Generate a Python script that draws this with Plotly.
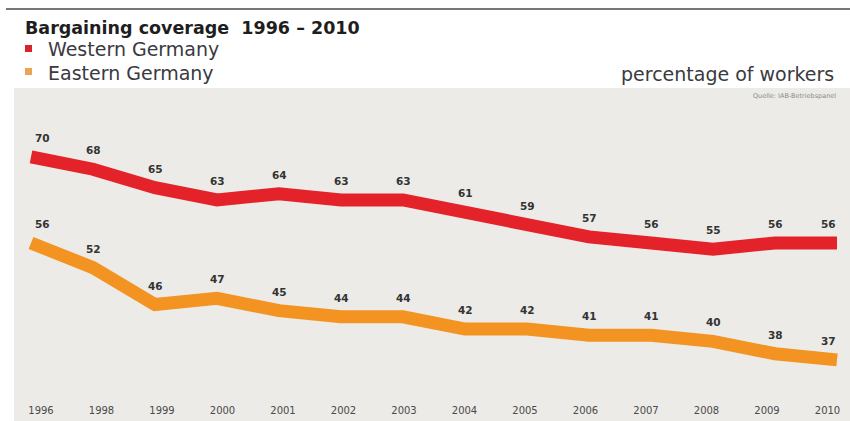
import plotly.graph_objects as go

years = ["1996", "1998", "1999", "2000", "2001", "2002", "2003",
         "2004", "2005", "2006", "2007", "2008", "2009", "2010"]
west = [70, 68, 65, 63, 64, 63, 63, 61, 59, 57, 56, 55, 56, 56]
east = [56, 52, 46, 47, 45, 44, 44, 42, 42, 41, 41, 40, 38, 37]

W, H = 850, 421
RED = "#e4222a"
ORANGE = "#f39322"
BG = "#ecebe7"
FONT = "DejaVu Sans"

def px_x(p):
    return p / W

def px_y(p):
    return 1 - p / H

idx = list(range(len(years)))

fig = go.Figure()
fig.add_trace(go.Scatter(x=idx, y=west, mode="lines", line=dict(color=RED, width=13),
                         hoverinfo="skip", showlegend=False))
fig.add_trace(go.Scatter(x=idx, y=east, mode="lines", line=dict(color=ORANGE, width=13),
                         hoverinfo="skip", showlegend=False))
# carrier for the year tick-label axis
fig.add_trace(go.Scatter(x=idx, y=[None] * len(idx), xaxis="x2", mode="markers",
                         hoverinfo="skip", showlegend=False))

annotations = []
n = len(years)
for series in (west, east):
    for i, v in enumerate(series):
        xs = 0
        if i == 0:
            xs = 11
        elif i == n - 1:
            xs = -9
        annotations.append(dict(x=i, y=v, xref="x", yref="y", text=str(v), showarrow=False,
                                yshift=19, xshift=xs,
                                font=dict(family=FONT, size=10.5, color="#333333", weight="bold")))

# Title and legend texts
annotations.append(dict(x=px_x(23), y=px_y(28), xref="paper", yref="paper", xanchor="left",
                        yanchor="middle", showarrow=False, text="<b>Bargaining coverage  1996 – 2010</b>",
                        font=dict(family=FONT, size=17.5, color="#1e1e1e")))
annotations.append(dict(x=px_x(46), y=px_y(49), xref="paper", yref="paper", xanchor="left",
                        yanchor="middle", showarrow=False, text="Western Germany",
                        font=dict(family=FONT, size=19, color="#3a3a40")))
annotations.append(dict(x=px_x(46), y=px_y(73), xref="paper", yref="paper", xanchor="left",
                        yanchor="middle", showarrow=False, text="Eastern Germany",
                        font=dict(family=FONT, size=19, color="#3a3a40")))
annotations.append(dict(x=px_x(836), y=px_y(74), xref="paper", yref="paper", xanchor="right",
                        yanchor="middle", showarrow=False, text="percentage of workers",
                        font=dict(family=FONT, size=19, color="#3a3a40")))
annotations.append(dict(x=px_x(838), y=px_y(96), xref="paper", yref="paper", xanchor="right",
                        yanchor="middle", showarrow=False, text="Quelle: IAB-Betriebspanel",
                        font=dict(family=FONT, size=6.5, color="#8a8a8a")))

shapes = [
    dict(type="rect", xref="paper", yref="paper", x0=px_x(14), x1=1, y0=0, y1=px_y(88),
         fillcolor=BG, line=dict(width=0), layer="below"),
    dict(type="line", xref="paper", yref="paper", x0=px_x(6), x1=1, y0=px_y(9), y1=px_y(9),
         line=dict(color="#4a4a4a", width=1.5)),
    dict(type="rect", xref="paper", yref="paper", x0=px_x(25), x1=px_x(32), y0=px_y(52), y1=px_y(45),
         fillcolor="#d8232d", line=dict(width=0)),
    dict(type="rect", xref="paper", yref="paper", x0=px_x(25), x1=px_x(32), y0=px_y(75), y1=px_y(68),
         fillcolor="#e9a555", line=dict(width=0)),
]

# x axis for the lines: point 0 at 31 px, 62 px per step
r0 = -(31 - 14) / 62
r1 = r0 + (W - 14) / 62
# x axis for year labels: label 0 at 41 px, 60.5 px per step
q0 = -(41 - 14) / 60.5
q1 = q0 + (W - 14) / 60.5

fig.update_layout(
    width=W, height=H,
    margin=dict(l=0, r=0, t=0, b=0),
    paper_bgcolor="white",
    plot_bgcolor="rgba(0,0,0,0)",
    xaxis=dict(domain=[px_x(14), 1], range=[r0, r1], showticklabels=False, showgrid=False,
               zeroline=False, showline=False, ticks=""),
    xaxis2=dict(domain=[px_x(14), 1], range=[q0, q1], overlaying="x", anchor="y", side="bottom",
                tickmode="array", tickvals=idx, ticktext=years, showgrid=False, zeroline=False,
                showline=False, ticks="", ticklabelstandoff=8,
                tickfont=dict(family=FONT, size=10, color="#4a4a4a")),
    yaxis=dict(domain=[px_y(395), px_y(88)], range=[56 - 152 / 6.15, 56 + 155 / 6.15],
               showticklabels=False, showgrid=False, zeroline=False, showline=False),
    annotations=annotations,
    shapes=shapes,
)

fig.write_html("out.html")
